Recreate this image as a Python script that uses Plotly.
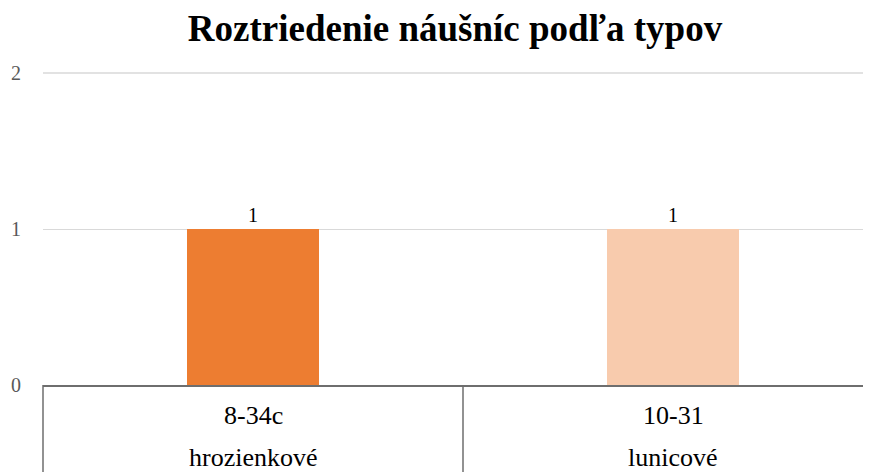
import plotly.graph_objects as go

title = "Roztriedenie náušníc podľa typov"
codes = ["8-34c", "10-31"]
groups = ["hrozienkové", "lunicové"]
values = [1, 1]
bar_colors = ["#ED7D31", "#F8CBAD"]
y_ticks = [0, 1, 2]

# page body has an 8px default margin; size the figure so the plot lands where the reference has it
OFF = 8
W, H = 871 - OFF, 472 - OFF
ml, mr, mt, mb = 43 - OFF, 0, 73 - OFF, 472 - 385
pw = W - ml - mr
ph = H - mt - mb

font_family = "Liberation Serif, Times New Roman, serif"

fig = go.Figure()
fig.add_trace(go.Bar(
    x=codes, y=values,
    marker=dict(color=bar_colors, line=dict(width=0)),
    width=0.314,
    text=[str(v) for v in values],
    textposition="outside",
    textfont=dict(family=font_family, size=20, color="#000000"),
    cliponaxis=False,
    hoverinfo="skip",
))

shapes = [
    # top gridline (at the range edge)
    dict(type="line", xref="paper", yref="paper", x0=0, x1=1, y0=1, y1=1,
         line=dict(color="#d9d9d9", width=1.5), layer="below"),
]
for px in [43, 463]:
    xp = (px - 43) / pw
    shapes.append(dict(type="line", xref="paper", yref="paper",
                       x0=xp, x1=xp, y0=0, y1=-(472 - 385) / ph - 0.05,
                       line=dict(color="#6e6e6e", width=1.5)))

annotations = []
for c, g in zip(codes, groups):
    annotations.append(dict(x=c, xref="x", yref="paper", y=-(415 - 385) / ph,
                            text=c, showarrow=False, yanchor="middle",
                            font=dict(family=font_family, size=26, color="#000000")))
    annotations.append(dict(x=c, xref="x", yref="paper", y=-(457 - 385) / ph,
                            text=g, showarrow=False, yanchor="middle",
                            font=dict(family=font_family, size=26, color="#000000")))

fig.update_layout(
    width=W, height=H,
    margin=dict(l=ml, r=mr, t=mt, b=mb, pad=0),
    paper_bgcolor="white", plot_bgcolor="white",
    showlegend=False,
    title=dict(text=f"<b>{title}</b>", x=(455 - OFF) / W, xanchor="center",
               y=1 - (28 - OFF) / H, yanchor="middle",
               font=dict(family=font_family, size=37, color="#000000")),
    xaxis=dict(type="category", range=[-0.5, (871 - 253) / 420], showticklabels=False,
               showgrid=False, zeroline=False, showline=True, linecolor="#6e6e6e", linewidth=1.5,
               ticks="", fixedrange=True),
    yaxis=dict(range=[0, 2], tickvals=y_ticks, showgrid=True, gridcolor="#d9d9d9", gridwidth=1,
               zeroline=False, showline=False, ticks="", ticklabelstandoff=21,
               tickfont=dict(family=font_family, size=20, color="#595959"), fixedrange=True),
    shapes=shapes,
    annotations=annotations,
    bargap=0,
)

fig.write_html("out.html")
